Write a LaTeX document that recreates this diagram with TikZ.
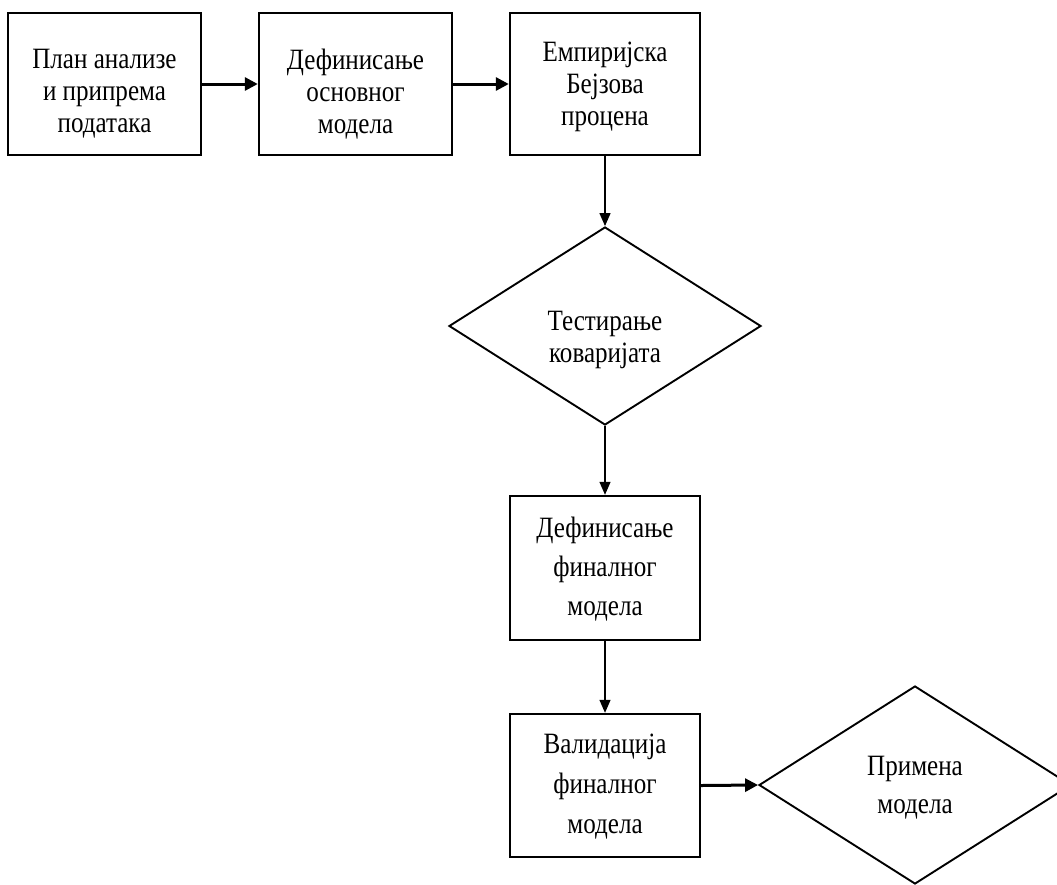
\documentclass[tikz,border=0pt]{standalone}
\usepackage{fontspec}
\setmainfont{Liberation Serif}[FakeStretch=0.85]
\usetikzlibrary{shapes.geometric,arrows.meta}
\begin{document}
\begin{tikzpicture}[x=1pt,y=-1pt,
  box/.style={draw, line width=2.4pt, minimum width=190pt, minimum height=142pt, inner sep=0pt},
  dia/.style={draw, diamond, line width=1.9pt, minimum width=312pt, minimum height=198pt, inner sep=0pt, aspect=1.576},
  txt/.style={align=center, font=\fontsize{29.5}{32}\selectfont, inner sep=0pt},
  thinarrow/.style={line width=1.3pt, -{Triangle[length=13pt,width=11pt]}},
  thickarrow/.style={line width=3pt, -{Triangle[length=13pt,width=13pt]}}
]
\useasboundingbox (0,0) rectangle (1057,884);
\clip (0,0) rectangle (1057,884);

\node[box, minimum width=193pt] (b1) at (104.5,84) {};
\node[box, minimum width=193pt] (b2) at (355.5,84) {};
\node[box] (b3) at (605,84) {};
\node[dia] (d1) at (605,326) {};
\node[box, minimum height=144pt] (b4) at (605,568) {};
\node[box, minimum height=143pt] (b5) at (605,785.5) {};
\node[dia] (d2) at (915,785) {};

\node[txt] (t1) at (104.5,94) {План анализе\\и припрема\\података};
\node[txt] (t2) at (355.5,94) {Дефинисање\\основног\\модела};
\node[txt] (t3) at (605,87) {Емпиријска\\Бејзова\\процена};
\node[txt] (t4) at (605,340) {Тестирање\\коваријата};
\node[txt, font=\fontsize{29.5}{39}\selectfont] (t5) at (605,569) {Дефинисање\\финалног\\модела};
\node[txt, font=\fontsize{29.5}{40}\selectfont] (t6) at (605,787) {Валидација\\финалног\\модела};
\node[txt, font=\fontsize{29.5}{38}\selectfont] (t7) at (915,788) {Примена\\модела};

\draw[thickarrow] (b1.east) -- (b2.west);
\draw[thickarrow] (b2.east) -- (b3.west);
\draw[thinarrow] (b3.south) -- (d1.north);
\draw[thinarrow] (d1.south) -- (b4.north);
\draw[thinarrow] (b4.south) -- (b5.north);
\draw[thickarrow] (b5.east) -- (d2.west);
\end{tikzpicture}
\end{document}
